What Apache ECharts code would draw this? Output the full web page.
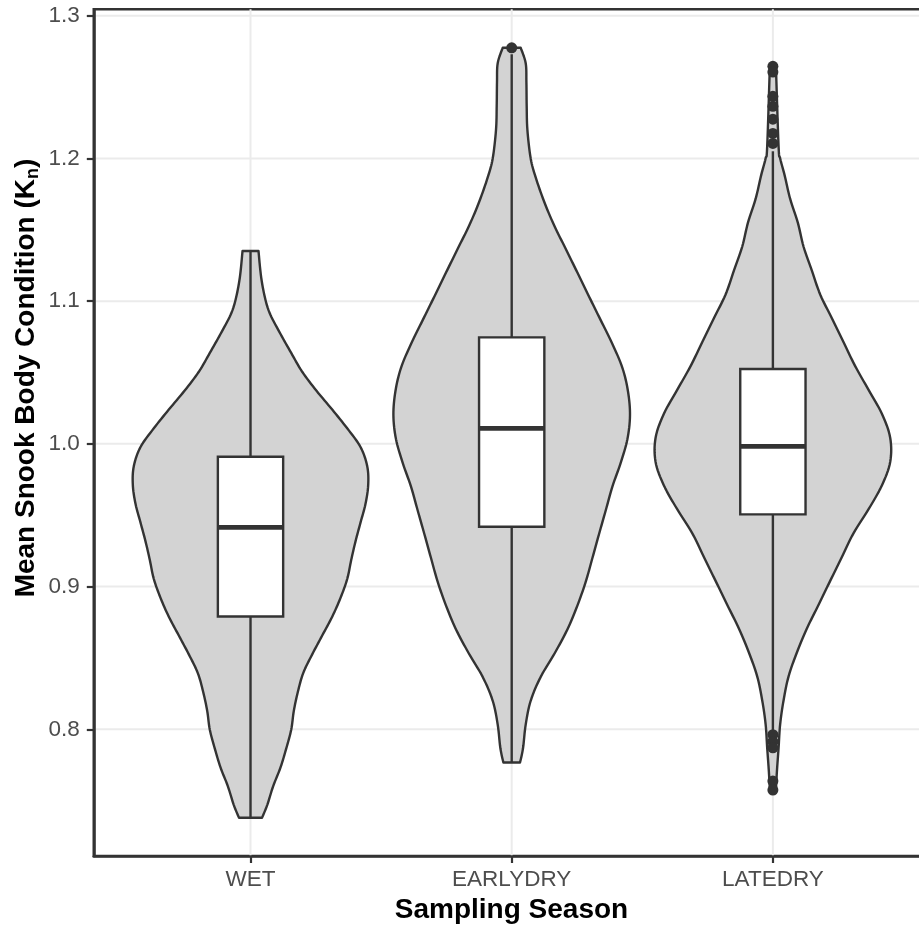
<!DOCTYPE html>
<html><head><meta charset="utf-8">
<script src="https://cdn.jsdelivr.net/npm/echarts@6/dist/echarts.min.js"></script>
<style>html,body{margin:0;padding:0;background:#fff}#c{width:919px;height:928px}</style>
</head><body><div id="c"></div>
<script>
// ---- data ----
const categories = ['WET', 'EARLYDRY', 'LATEDRY'];
const yTicks = [0.8, 0.9, 1.0, 1.1, 1.2, 1.3];

// violin outlines: [value, half-width in x-axis units]
const wetViolin = [
  [1.1351,0.0306],[1.1164,0.041],[1.1008,0.0574],[1.0903,0.0766],[1.077,0.1149],
  [1.0637,0.1558],[1.0505,0.1979],[1.0372,0.2527],[1.024,0.3128],[1.0109,0.3702],
  [0.9978,0.4211],[0.9844,0.4468],[0.9713,0.4506],[0.958,0.4403],[0.9448,0.4211],
  [0.9317,0.402],[0.9186,0.3855],[0.9053,0.3702],[0.8921,0.3446],[0.8789,0.3128],
  [0.8657,0.2745],[0.8525,0.2362],[0.8394,0.2018],[0.8261,0.1811],[0.8129,0.1658],
  [0.7997,0.1558],[0.7865,0.1367],[0.7733,0.1149],[0.7602,0.0869],[0.7469,0.0639],
  [0.738,0.044]
];
const earlyDryViolin = [
  [1.2775,0.0345],[1.2667,0.0536],[1.2533,0.0563],[1.2367,0.0574],[1.22,0.0601],
  [1.2,0.0727],[1.1867,0.0919],[1.17,0.1237],[1.1533,0.1619],[1.1367,0.2067],
  [1.12,0.2515],[1.1033,0.2959],[1.0867,0.3407],[1.07,0.3855],[1.0533,0.4238],
  [1.0367,0.4453],[1.02,0.4529],[1.0033,0.443],[0.9867,0.4173],[0.97,0.3855],
  [0.9533,0.3599],[0.9367,0.3342],[0.92,0.309],[0.9033,0.2833],[0.8867,0.2515],
  [0.87,0.2132],[0.8533,0.1646],[0.8367,0.111],[0.82,0.0727],[0.8033,0.0536],
  [0.7867,0.0433],[0.7767,0.0318]
];
const lateDryViolin = [
  [1.2652,0.0115],[1.2084,0.0218],[1.2,0.0279],[1.1883,0.0448],[1.1716,0.0662],
  [1.1548,0.0957],[1.1381,0.1175],[1.1214,0.1493],[1.1047,0.1811],[1.088,0.2259],
  [1.0712,0.2707],[1.0545,0.3151],[1.0378,0.3664],[1.0211,0.4173],[1.0043,0.4491],
  [0.9873,0.4491],[0.9709,0.4173],[0.9542,0.3664],[0.9375,0.309],[0.9207,0.2642],
  [0.904,0.2194],[0.8873,0.175],[0.8706,0.1302],[0.8538,0.0919],[0.8371,0.0601],
  [0.8204,0.041],[0.8037,0.0279],[0.787,0.0218],[0.7702,0.0153],[0.757,0.0115]
];

// box stats: [lower whisker, Q1, median, Q3, upper whisker]
const wetBox = [0.738, 0.879, 0.9415, 0.991, 1.135];
const earlyDryBox = [0.7765, 0.9419, 1.0109, 1.0746, 1.273];
const lateDryBox = [0.798, 0.9506, 0.9983, 1.0524, 1.205];

// outliers
const wetOutliers = [];
const earlyDryOutliers = [1.2775];
const lateDryOutliers = [1.2645, 1.2605, 1.2435, 1.2365, 1.2275, 1.2175, 1.2105,
                         0.7962, 0.7913, 0.787, 0.7637, 0.7574];

// ---- chart ----
const violins = [wetViolin, earlyDryViolin, lateDryViolin];
const boxes = [wetBox, earlyDryBox, lateDryBox];
const outliers = [wetOutliers, earlyDryOutliers, lateDryOutliers];
const BOX_W = 0.25;
const INK = '#333333';
const GRID = '#ebebeb';
const LW = 2.4;
const FONT = "'Liberation Sans', Arial, sans-serif";

const outlierData = [];
outliers.forEach((arr, i) => arr.forEach(v => outlierData.push([i + 1, v])));

// smooth drawing of an outline through pixel points (Catmull-Rom), rendering only
function smoothPts(pts, steps) {
  const out = [pts[0]];
  for (let i = 0; i < pts.length - 1; i++) {
    const p0 = pts[Math.max(0, i - 1)], p1 = pts[i], p2 = pts[i + 1], p3 = pts[Math.min(pts.length - 1, i + 2)];
    const c1 = [p1[0] + (p2[0] - p0[0]) / 6, p1[1] + (p2[1] - p0[1]) / 6];
    const c2 = [p2[0] - (p3[0] - p1[0]) / 6, p2[1] - (p3[1] - p1[1]) / 6];
    for (let s = 1; s <= steps; s++) {
      const t = s / steps, u = 1 - t;
      const a = u * u * u, b = 3 * u * u * t, c = 3 * u * t * t, d = t * t * t;
      out.push([a * p1[0] + b * c1[0] + c * c2[0] + d * p2[0],
                a * p1[1] + b * c1[1] + c * c2[1] + d * p2[1]]);
    }
  }
  return out;
}

const chart = echarts.init(document.getElementById('c'), null, {renderer: 'canvas'});

chart.setOption({
  animation: false,
  backgroundColor: '#ffffff',
  grid: {left: 93.8, top: 9.3, width: 835.8, height: 846.7, outerBoundsMode: 'none', containLabel: false,
         show: true, borderColor: INK, borderWidth: 2.6, backgroundColor: 'transparent'},
  xAxis: {
    type: 'value', min: 0.4, max: 3.6,
    axisLine: {show: true, lineStyle: {color: INK, width: 2.6}},
    axisTick: {show: true, length: 7, lineStyle: {color: INK, width: 2.2}, customValues: [1, 2, 3]},
    axisLabel: {customValues: [1, 2, 3], formatter: v => categories[Math.round(v) - 1] || '',
                color: '#4d4d4d', fontSize: 22.5, fontFamily: FONT, margin: 12.5},
    splitLine: {show: false}
  },
  yAxis: {
    type: 'value', min: 0.71123, max: 1.30448,
    axisLine: {show: true, lineStyle: {color: INK, width: 2.6}},
    axisTick: {show: true, length: 7, lineStyle: {color: INK, width: 2.2}, customValues: yTicks},
    axisLabel: {customValues: yTicks, formatter: v => v.toFixed(1),
                color: '#4d4d4d', fontSize: 22.5, fontFamily: FONT, margin: 14},
    splitLine: {show: false}
  },
  graphic: [
    {type: 'text', x: 511.5, y: 910, z: 10,
     style: {text: 'Sampling Season', font: "bold 28px 'Liberation Sans', Arial, sans-serif",
             fill: '#000', align: 'center', verticalAlign: 'middle'}},
    {type: 'text', x: 26, y: 378, rotation: Math.PI / 2, z: 10,
     style: {text: '{b|Mean Snook Body Condition (K}{s|n}{b|)}', align: 'center', verticalAlign: 'middle',
             rich: {
               b: {fontSize: 28, fontWeight: 'bold', fontFamily: FONT, color: '#000', lineHeight: 32, verticalAlign: 'middle'},
               s: {fontSize: 18, fontWeight: 'bold', fontFamily: FONT, color: '#000', lineHeight: 20, verticalAlign: 'bottom'}
             }}}
  ],
  series: [
    { // vertical grid lines at categories
      type: 'custom', z: 0, silent: true,
      data: categories.map((c, i) => [i + 1, 1.0]),
      renderItem: (params, api) => {
        const cs = params.coordSys;
        const p = api.coord([api.value(0), 1.0]);
        return {type: 'line', shape: {x1: p[0], y1: cs.y, x2: p[0], y2: cs.y + cs.height},
                style: {stroke: GRID, lineWidth: 2}};
      }
    },
    { // horizontal grid lines at y ticks
      type: 'custom', z: 0, silent: true,
      data: yTicks.map(v => [2, v]),
      renderItem: (params, api) => {
        const cs = params.coordSys;
        const p = api.coord([2, api.value(1)]);
        return {type: 'line', shape: {x1: cs.x, y1: p[1], x2: cs.x + cs.width, y2: p[1]},
                style: {stroke: GRID, lineWidth: 2}};
      }
    },
    { // violins
      type: 'custom', z: 3, silent: true,
      data: categories.map((c, i) => [i + 1, boxes[i][2]]),
      renderItem: (params, api) => {
        const i = params.dataIndex;
        const x = i + 1;
        const v = violins[i];
        const right = smoothPts(v.map(r => api.coord([x + r[1], r[0]])), 8);
        const left = smoothPts(v.map(r => api.coord([x - r[1], r[0]])).reverse(), 8);
        return {type: 'polygon', shape: {points: right.concat(left)},
                style: {fill: '#d3d3d3', stroke: INK, lineWidth: LW, lineJoin: 'round'}};
      }
    },
    { // boxplots
      type: 'custom', z: 4, silent: true,
      data: categories.map((c, i) => [i + 1, boxes[i][2]]),
      renderItem: (params, api) => {
        const i = params.dataIndex;
        const x = i + 1;
        const b = boxes[i];
        const lw = api.coord([x, b[0]]), q1 = api.coord([x - BOX_W / 2, b[1]]);
        const q3 = api.coord([x + BOX_W / 2, b[3]]), uw = api.coord([x, b[4]]);
        const md = api.coord([x, b[2]]);
        const c1 = api.coord([x, b[1]]), c3 = api.coord([x, b[3]]);
        return {type: 'group', children: [
          {type: 'line', shape: {x1: lw[0], y1: lw[1], x2: c1[0], y2: c1[1]}, style: {stroke: INK, lineWidth: LW}},
          {type: 'line', shape: {x1: c3[0], y1: c3[1], x2: uw[0], y2: uw[1]}, style: {stroke: INK, lineWidth: LW}},
          {type: 'rect', shape: {x: q1[0], y: q3[1], width: q3[0] - q1[0], height: q1[1] - q3[1]},
           style: {fill: '#ffffff', stroke: INK, lineWidth: LW}},
          {type: 'line', shape: {x1: q1[0], y1: md[1], x2: q3[0], y2: md[1]}, style: {stroke: INK, lineWidth: 4.8}}
        ]};
      }
    },
    {
      type: 'scatter', z: 5, silent: true, symbol: 'circle', symbolSize: 11,
      itemStyle: {color: INK, opacity: 1},
      data: outlierData
    }
  ]
});
</script></body></html>
